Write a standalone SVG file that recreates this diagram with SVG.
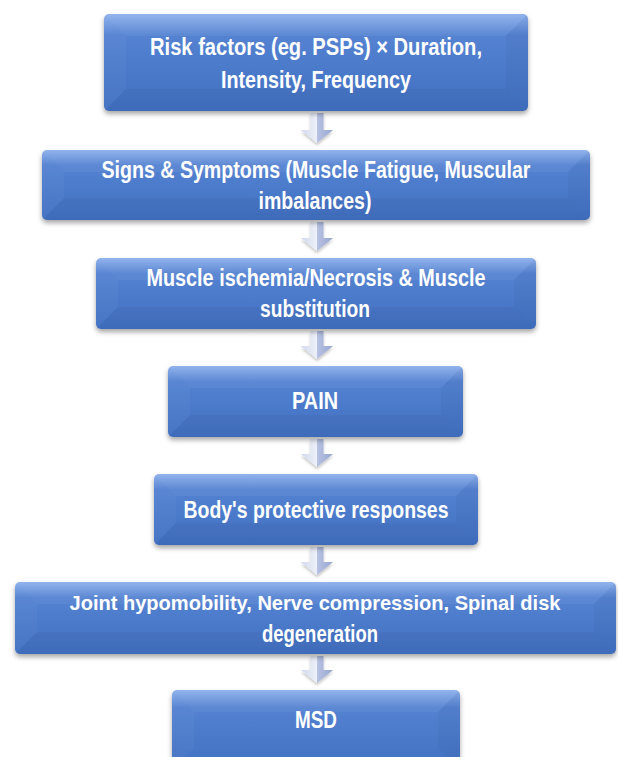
<svg xmlns="http://www.w3.org/2000/svg" width="618" height="757" viewBox="0 0 618 757">
<defs>
<linearGradient id="boxg" x1="0" y1="0" x2="0" y2="1">
<stop offset="0" stop-color="#8DB0EC"/>
<stop offset="0.22" stop-color="#5482D1"/>
<stop offset="1" stop-color="#4170C2"/>
</linearGradient>
<linearGradient id="arrg" x1="0" y1="0" x2="1" y2="0">
<stop offset="0" stop-color="#D0D8EE"/>
<stop offset="0.5" stop-color="#EEF1F9"/>
<stop offset="0.5" stop-color="#B8C2E2"/>
<stop offset="1" stop-color="#97A5D0"/>
</linearGradient>
<filter id="sh" x="-10%" y="-20%" width="120%" height="150%">
<feDropShadow dx="0" dy="3" stdDeviation="2.5" flood-color="#000" flood-opacity="0.35"/>
</filter>
<filter id="ash" x="-30%" y="-30%" width="160%" height="160%">
<feDropShadow dx="0" dy="2" stdDeviation="1.5" flood-color="#000" flood-opacity="0.25"/>
</filter>
</defs>
<style>
.base{fill:url(#boxg);filter:url(#sh)}
.ft{fill:#FFFFFF;opacity:0.05}
.fb{fill:#000000;opacity:0.04}
.fl{fill:#FFFFFF;opacity:0.03}
.fr{fill:#000000;opacity:0.03}
.lbl{font-family:"Liberation Sans Narrow","Liberation Sans",Arial,sans-serif;font-weight:bold;font-size:23px;fill:#FFFFFF;text-anchor:middle}
.arr{fill:url(#arrg);filter:url(#ash)}
</style>

<g id="connectors">
<path class="arr" d="M310.5,113 H323.5 V130 H333 L317,143 L301,130 H310.5 Z"/>
<path class="arr" d="M310.5,222 H323.5 V238 H333 L317,251 L301,238 H310.5 Z"/>
<path class="arr" d="M310.5,331 H323.5 V346 H333 L317,359 L301,346 H310.5 Z"/>
<path class="arr" d="M310.5,439 H323.5 V454 H333 L317,467 L301,454 H310.5 Z"/>
<path class="arr" d="M310.5,547 H323.5 V562 H333 L317,575 L301,562 H310.5 Z"/>
<path class="arr" d="M310.5,656 H323.5 V670 H333 L317,683 L301,670 H310.5 Z"/>
</g>

<g id="node1">
<rect class="base" x="104" y="14" width="424" height="97" rx="5"/>
<polygon class="ft" points="104,14 528,14 506,36 126,36"/>
<polygon class="fb" points="104,111 528,111 506,89 126,89"/>
<polygon class="fl" points="104,14 126,36 126,89 104,111"/>
<polygon class="fr" points="528,14 506,36 506,89 528,111"/>
<text class="lbl" x="316" y="55" textLength="332" lengthAdjust="spacingAndGlyphs">Risk factors (eg. PSPs) × Duration,</text>
<text class="lbl" x="316" y="88" textLength="190" lengthAdjust="spacingAndGlyphs">Intensity, Frequency</text>
</g>

<g id="node2">
<rect class="base" x="42" y="150" width="548" height="70" rx="5"/>
<polygon class="ft" points="42,150 590,150 568,172 64,172"/>
<polygon class="fb" points="42,220 590,220 568,198 64,198"/>
<polygon class="fl" points="42,150 64,172 64,198 42,220"/>
<polygon class="fr" points="590,150 568,172 568,198 590,220"/>
<text class="lbl" x="316" y="178" textLength="429" lengthAdjust="spacingAndGlyphs">Signs &amp; Symptoms (Muscle Fatigue, Muscular</text>
<text class="lbl" x="315" y="209" textLength="113" lengthAdjust="spacingAndGlyphs">imbalances)</text>
</g>

<g id="node3">
<rect class="base" x="96" y="258" width="440" height="71" rx="5"/>
<polygon class="ft" points="96,258 536,258 514,280 118,280"/>
<polygon class="fb" points="96,329 536,329 514,307 118,307"/>
<polygon class="fl" points="96,258 118,280 118,307 96,329"/>
<polygon class="fr" points="536,258 514,280 514,307 536,329"/>
<text class="lbl" x="316" y="286" textLength="339" lengthAdjust="spacingAndGlyphs">Muscle ischemia/Necrosis &amp; Muscle</text>
<text class="lbl" x="315" y="317" textLength="110" lengthAdjust="spacingAndGlyphs">substitution</text>
</g>

<g id="node4">
<rect class="base" x="168" y="366" width="295" height="71" rx="5"/>
<polygon class="ft" points="168,366 463,366 441,388 190,388"/>
<polygon class="fb" points="168,437 463,437 441,415 190,415"/>
<polygon class="fl" points="168,366 190,388 190,415 168,437"/>
<polygon class="fr" points="463,366 441,388 441,415 463,437"/>
<text class="lbl" x="315" y="409" textLength="46" lengthAdjust="spacingAndGlyphs">PAIN</text>
</g>

<g id="node5">
<rect class="base" x="154" y="474" width="324" height="71" rx="5"/>
<polygon class="ft" points="154,474 478,474 456,496 176,496"/>
<polygon class="fb" points="154,545 478,545 456,523 176,523"/>
<polygon class="fl" points="154,474 176,496 176,523 154,545"/>
<polygon class="fr" points="478,474 456,496 456,523 478,545"/>
<text class="lbl" x="316" y="518" textLength="265" lengthAdjust="spacingAndGlyphs">Body's protective  responses</text>
</g>

<g id="node6">
<rect class="base" x="15" y="582" width="601" height="72" rx="5"/>
<polygon class="ft" points="15,582 616,582 594,604 37,604"/>
<polygon class="fb" points="15,654 616,654 594,632 37,632"/>
<polygon class="fl" points="15,582 37,604 37,632 15,654"/>
<polygon class="fr" points="616,582 594,604 594,632 616,654"/>
<text class="lbl" x="315" y="610" style="font-size:21px" textLength="491" lengthAdjust="spacingAndGlyphs">Joint hypomobility, Nerve compression, Spinal disk</text>
<text class="lbl" x="320" y="642" textLength="116" lengthAdjust="spacingAndGlyphs">degeneration</text>
</g>

<g id="node7">
<rect class="base" x="172" y="690" width="288" height="80" rx="5"/>
<polygon class="ft" points="172,690 460,690 438,712 194,712"/>
<polygon class="fl" points="172,690 194,712 194,748 172,770"/>
<polygon class="fr" points="460,690 438,712 438,748 460,770"/>
<text class="lbl" x="316" y="728" textLength="42" lengthAdjust="spacingAndGlyphs">MSD</text>
</g>
</svg>
